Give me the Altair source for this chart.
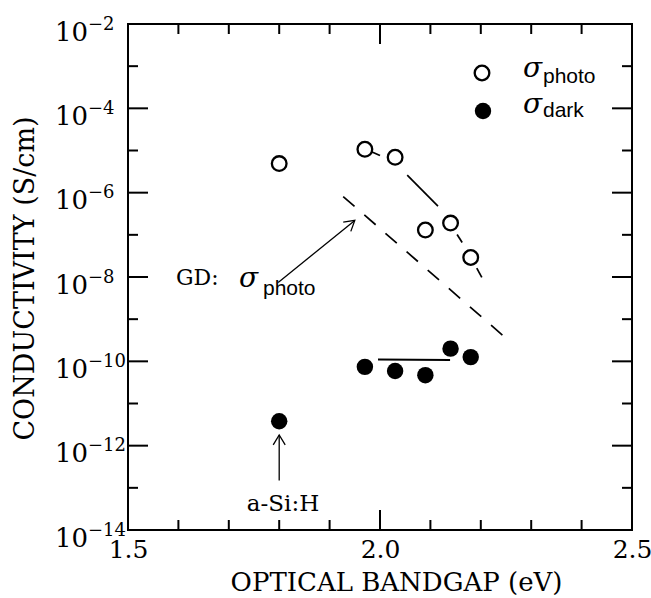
import math
import altair as alt
import pandas as pd

# Conductivity versus optical bandgap (photo and dark)
photo_gap = [1.80, 1.97, 2.03, 2.09, 2.14, 2.18]
photo_sigma = [4.9e-6, 1.07e-5, 6.9e-6, 1.3e-7, 1.9e-7, 2.9e-8]
dark_gap = [1.80, 1.97, 2.03, 2.09, 2.14, 2.18]
dark_sigma = [3.8e-12, 7.4e-11, 5.9e-11, 4.7e-11, 2.0e-10, 1.26e-10]

# trend through the photoconductivity points, broken around the markers
photo_fit_part = [0, 0, 1, 1, 2, 2, 3, 3]
photo_fit_gap = [1.982, 2.000, 2.054, 2.115, 2.153, 2.163, 2.192, 2.202]
photo_fit_sigma = [9.5e-6, 7.6e-6, 2.6e-6, 4.8e-7, 1.02e-7, 6.6e-8, 1.62e-8, 9.8e-9]

# level of the dark conductivity
dark_fit_gap = [1.996, 2.139]
dark_fit_sigma = [1.1e-10, 1.07e-10]

# glow-discharge photoconductivity
gd_gap = [1.927, 2.246]
gd_sigma = [8.1e-7, 3.9e-10]

# annotation arrows (tail, head)
arrow_id = ["gd", "gd", "asi", "asi"]
arrow_gap = [1.798, 1.950, 1.80, 1.80]
arrow_sigma = [7.4e-9, 2.2e-7, 1.5e-13, 1.8e-12]

# axis ticks and labels
x_label_values = [1.5, 2.0, 2.5]
x_major_ticks = [2.0]
x_minor_ticks = [1.6, 1.7, 1.8, 1.9, 2.1, 2.2, 2.3, 2.4]
y_label_exps = [-2, -4, -6, -8, -10, -12, -14]
y_major_exps = [-4, -6, -8, -10, -12]
y_minor_exps = [-3, -5, -7, -9, -11, -13]

W, H = 504, 506
SERIF = "DejaVu Serif"
SANS = "Liberation Sans"
X_DOMAIN = [1.5, 2.5]
Y_DOMAIN = [1e-14, 1e-2]

xs = alt.Scale(domain=X_DOMAIN, nice=False, zero=False)
ys = alt.Scale(type="log", domain=Y_DOMAIN, nice=False)

x_axis = alt.Axis(
    values=x_label_values, format=".1f", ticks=False, domain=False, grid=False,
    labelFont=SERIF, labelFontSize=25, labelColor="black", labelPadding=7,
    labelFlush=False, labelOverlap=False,
    title="OPTICAL BANDGAP (eV)", titleFont=SERIF, titleFontSize=26,
    titleFontWeight="normal", titleColor="black", titleX=268, titleY=60,
    titleAlign="center", titleBaseline="alphabetic",
)
y_axis = alt.Axis(
    labels=False, ticks=False, domain=False, grid=False,
    title="CONDUCTIVITY (S/cm)", titleFont=SERIF, titleFontSize=27,
    titleFontWeight="normal", titleColor="black", titleX=-95, titleY=254,
    titleAngle=270, titleAlign="center", titleBaseline="alphabetic",
)


def X(field):
    return alt.X(field, type="quantitative", scale=xs, axis=x_axis)


def Y(field):
    return alt.Y(field, type="quantitative", scale=ys, axis=y_axis)


def px(gap):
    return (gap - X_DOMAIN[0]) / (X_DOMAIN[1] - X_DOMAIN[0]) * W


def py(sigma):
    lo, hi = math.log10(Y_DOMAIN[0]), math.log10(Y_DOMAIN[1])
    return (hi - math.log10(sigma)) / (hi - lo) * H


photo = pd.DataFrame({"gap": photo_gap, "sigma": photo_sigma})
dark = pd.DataFrame({"gap": dark_gap, "sigma": dark_sigma})
photo_fit = pd.DataFrame({"gap": photo_fit_gap, "sigma": photo_fit_sigma, "part": photo_fit_part})
dark_fit = pd.DataFrame({"gap": dark_fit_gap, "sigma": dark_fit_sigma})
gd = pd.DataFrame({"gap": gd_gap, "sigma": gd_sigma})
arrows = pd.DataFrame({"id": arrow_id, "gap": arrow_gap, "sigma": arrow_sigma})

# arrow heads sit at the second point of each arrow, turned along the shaft
heads = []
for name in ["gd", "asi"]:
    a = arrows[arrows["id"] == name].reset_index(drop=True)
    dx = px(a.gap[1]) - px(a.gap[0])
    dy = py(a.sigma[1]) - py(a.sigma[0])
    heads.append({"gap": a.gap[1], "sigma": a.sigma[1],
                  "ang": math.degrees(math.atan2(dx, -dy)) % 360})
heads = pd.DataFrame(heads)

tick_style = dict(color="black", strokeWidth=2)


def x_ticks(values, length):
    d = pd.DataFrame({"v": values})
    top = alt.Chart(d).mark_rule(**tick_style).encode(
        x=X("v"), y=alt.value(0), y2=alt.value(length))
    bottom = alt.Chart(d).mark_rule(**tick_style).encode(
        x=X("v"), y=alt.value(H - length), y2=alt.value(H))
    return [top, bottom]


def y_ticks(exps, length):
    d = pd.DataFrame({"v": [10.0 ** e for e in exps]})
    left = alt.Chart(d).mark_rule(**tick_style).encode(
        y=Y("v"), x=alt.value(0), x2=alt.value(length))
    right = alt.Chart(d).mark_rule(**tick_style).encode(
        y=Y("v"), x=alt.value(W - length), x2=alt.value(W))
    return [left, right]


ticks = (x_ticks(x_minor_ticks, 10) + x_ticks(x_major_ticks, 20)
         + y_ticks(y_minor_exps, 10) + y_ticks(y_major_exps, 20))

# y tick labels as 10 with a raised exponent
ylab = pd.DataFrame({
    "v": [10.0 ** e for e in y_label_exps],
    "base": ["10"] * len(y_label_exps),
    "exp": ["\u2212" + str(abs(e)) for e in y_label_exps],
})
ylab_base = alt.Chart(ylab).mark_text(
    align="left", baseline="alphabetic", dy=16.5, font=SERIF, fontSize=26,
    color="black").encode(y=Y("v"), x=alt.value(-73), text="base:N")
ylab_exp = alt.Chart(ylab).mark_text(
    align="left", baseline="alphabetic", dy=5.5, font=SERIF, fontSize=18,
    color="black").encode(y=Y("v"), x=alt.value(-40), text="exp:N")

photo_fit_line = alt.Chart(photo_fit).mark_line(color="black", strokeWidth=1.7).encode(
    x=X("gap"), y=Y("sigma"), detail="part:N")
dark_fit_line = alt.Chart(dark_fit).mark_line(color="black", strokeWidth=2).encode(
    x=X("gap"), y=Y("sigma"))
gd_line = alt.Chart(gd).mark_line(color="black", strokeWidth=1.7, strokeDash=[15, 13]).encode(
    x=X("gap"), y=Y("sigma"))
arrow_lines = alt.Chart(arrows).mark_line(color="black", strokeWidth=1.3).encode(
    x=X("gap"), y=Y("sigma"), detail="id:N")
arrow_heads = alt.Chart(heads).mark_point(
    shape="M -0.6 1 L 0 0 L 0.6 1", size=400, filled=False, color="black",
    strokeWidth=1.3, opacity=1).encode(
    x=X("gap"), y=Y("sigma"), angle=alt.Angle("ang:Q", scale=None))

photo_pts = alt.Chart(photo).mark_point(
    shape="circle", filled=True, fill="white", stroke="black", strokeWidth=2.3,
    size=215, opacity=1, fillOpacity=1).encode(x=X("gap"), y=Y("sigma"))
dark_pts = alt.Chart(dark).mark_circle(size=270, color="black", opacity=1).encode(
    x=X("gap"), y=Y("sigma"))


def text(txt, x, y, **kw):
    style = dict(color="black", align="left", baseline="alphabetic")
    style.update(kw)
    return alt.Chart(pd.DataFrame({"t": [txt]})).mark_text(**style).encode(
        text="t:N", x=alt.value(x), y=alt.value(y))


# legend
legend = [
    alt.Chart(pd.DataFrame({"k": ["photo"]})).mark_point(
        shape="circle", filled=True, fill="white", stroke="black", strokeWidth=2.3,
        size=215, opacity=1).encode(x=alt.value(354), y=alt.value(49)),
    alt.Chart(pd.DataFrame({"k": ["dark"]})).mark_circle(
        size=270, color="black", opacity=1).encode(x=alt.value(355), y=alt.value(87)),
    text("\u03c3", 395, 53, font=SERIF, fontSize=28, fontStyle="italic"),
    text("photo", 415, 59, font=SANS, fontSize=21),
    text("\u03c3", 395, 89, font=SERIF, fontSize=28, fontStyle="italic"),
    text("dark", 415, 93, font=SANS, fontSize=21),
]

# annotations
notes = [
    text("GD:", 48, 261, font=SERIF, fontSize=22),
    text("\u03c3", 111, 263, font=SERIF, fontSize=28, fontStyle="italic"),
    text("photo", 135, 271, font=SANS, fontSize=21),
    text("a-Si:H", 155, 487, font=SERIF, fontSize=23, align="center"),
]

chart = alt.layer(
    *ticks, gd_line, photo_fit_line, dark_fit_line, arrow_lines, arrow_heads,
    photo_pts, dark_pts, ylab_base, ylab_exp, *legend, *notes,
).properties(
    width=W, height=H,
    padding={"left": 128, "top": 24, "right": 19, "bottom": 68},
    autosize=alt.AutoSizeParams(type="none"),
    background="white",
).configure_view(stroke="black", strokeWidth=2)

chart.save("out.html", embed_options={"renderer": "svg", "actions": False})
